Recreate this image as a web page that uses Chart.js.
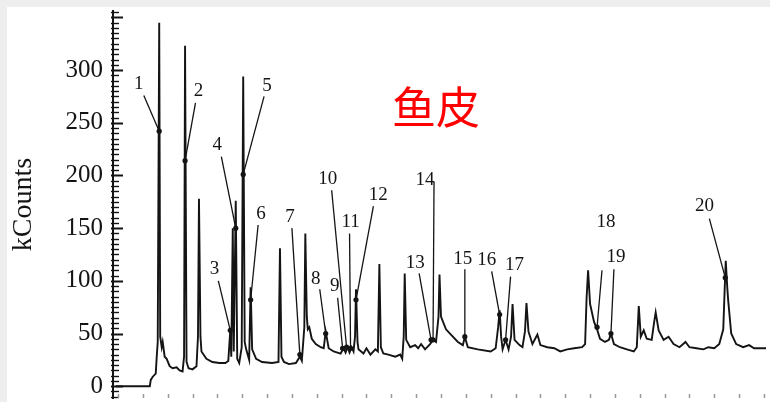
<!DOCTYPE html>
<html>
<head>
<meta charset="utf-8">
<script src="https://cdn.jsdelivr.net/npm/chart.js@4.4.1/dist/chart.umd.min.js"></script>
<style>
  html, body { margin: 0; padding: 0; background: #eeeeee; width: 770px; height: 402px; overflow: hidden; }
  #frame { position: absolute; left: 7px; top: 7px; width: 763px; height: 395px; background: #ffffff; }
  canvas { display: block; }
</style>
</head>
<body>
<div id="frame"><canvas id="chrom" width="763" height="395"></canvas></div>
<script>
// Total ion chromatogram: retention time (min) vs detector response (kCounts)
const traceTime = [
  -1.16, 1.56, 1.64, 1.80, 2.04, 2.12, 2.20, 2.32, 2.40, 2.52,
  2.60, 2.76, 2.92, 3.16, 3.40, 3.72, 3.96, 4.20, 4.32, 4.40,
  4.52, 4.68, 5.00, 5.32, 5.44, 5.52, 5.64, 5.72, 6.12, 6.60,
  7.16, 7.64, 7.88, 8.04, 8.12, 8.24, 8.32, 8.48, 8.60, 8.76,
  8.96, 9.08, 9.20, 9.32, 9.56, 9.68, 9.80, 10.12, 10.60, 11.40,
  11.92, 12.04, 12.16, 12.36, 12.76, 13.32, 13.64, 13.80, 14.00, 14.08,
  14.20, 14.28, 14.40, 14.60, 14.92, 15.32, 15.56, 15.72, 15.96, 16.36,
  16.92, 17.16, 17.32, 17.48, 17.64, 17.80, 17.96, 18.08, 18.16, 18.28,
  18.36, 18.76, 19.00, 19.32, 19.72, 19.92, 20.04, 20.16, 20.36, 20.76,
  21.32, 21.72, 21.88, 22.00, 22.08, 22.20, 22.52, 22.92, 23.16, 23.40,
  23.72, 24.12, 24.36, 24.60, 24.80, 24.88, 25.00, 25.40, 25.80, 26.36,
  26.76, 26.92, 27.16, 27.96, 29.00, 29.40, 29.60, 29.72, 29.84, 29.96,
  30.20, 30.44, 30.64, 30.76, 30.92, 31.32, 31.56, 31.76, 31.88, 32.04,
  32.36, 32.76, 33.00, 33.56, 34.12, 34.60, 35.16, 35.72, 36.36, 36.60,
  36.72, 36.84, 37.00, 37.32, 37.56, 37.80, 38.20, 38.52, 38.68, 38.92,
  39.40, 39.96, 40.52, 40.76, 40.92, 41.08, 41.32, 41.56, 41.96, 42.16,
  42.28, 42.52, 42.92, 43.32, 43.72, 44.20, 44.68, 45.00, 45.56, 46.12,
  46.52, 47.00, 47.40, 47.72, 47.84, 47.92, 48.04, 48.12, 48.36, 48.76,
  49.32, 49.80, 50.20, 51.16
];
const traceCounts = [
  0, 0, 6, 9, 12, 28, 42, 345, 47, 37,
  42, 28, 26, 19, 17, 18, 15, 14, 28, 323,
  23, 17, 16, 19, 47, 178, 47, 33, 26, 23,
  22, 22, 24, 53, 28, 150, 33, 176, 26, 22,
  37, 294, 42, 35, 25, 94, 35, 26, 23, 22,
  23, 131, 28, 23, 21, 22, 28, 24, 56, 145,
  66, 54, 56, 45, 40, 37, 36, 52, 36, 33,
  31, 36, 32, 37, 32, 37, 33, 47, 92, 42,
  35, 31, 36, 30, 35, 33, 116, 37, 31, 30,
  28, 30, 26, 47, 107, 44, 37, 39, 36, 40,
  35, 40, 44, 42, 66, 106, 66, 54, 49, 42,
  39, 47, 37, 35, 33, 36, 56, 72, 47, 35,
  44, 35, 47, 78, 44, 39, 37, 52, 79, 52,
  40, 49, 39, 37, 36, 33, 35, 36, 37, 40,
  84, 110, 78, 61, 54, 45, 42, 44, 50, 40,
  37, 35, 33, 37, 76, 47, 53, 45, 44, 61,
  70, 53, 44, 47, 40, 37, 42, 37, 36, 35,
  37, 36, 40, 54, 94, 119, 94, 81, 50, 40,
  37, 39, 36, 36
];

// Numbered compounds: label text position, leader start, marked point on the trace
const peakNames   = ['1','2','3','4','5','6','7','8','9','10','11','12','13','14','15','16','17','18','19','20'];
const nameTime    = [0.68, 5.48, 6.76, 7.00, 11.00, 10.52, 12.84, 14.92, 16.44, 15.88, 17.72, 19.96, 22.92, 23.72, 26.76, 28.68, 30.92, 38.28, 39.08, 46.20];
const nameCounts  = [287, 280, 111, 229, 285, 163, 161, 102, 95, 197, 156, 181, 117, 196, 121, 120, 115, 156, 123, 171];
const leadTime    = [1.08, 5.24, 7.08, 7.32, 10.76, 10.28, 13.00, 15.24, 16.68, 16.20, 17.64, 19.56, 23.24, 24.44, 26.92, 29.08, 30.60, 37.96, 38.92, 46.60];
const leadCounts  = [276, 269, 100, 218, 275, 153, 150, 92, 84, 186, 145, 171, 107, 194, 111, 109, 104, 110, 111, 159];
const markTime    = [2.32, 4.40, 8.04, 8.48, 9.08, 9.68, 13.64, 15.72, 17.08, 17.40, 17.72, 18.16, 24.20, 24.36, 26.92, 29.72, 30.20, 37.56, 38.68, 47.88];
const markCounts  = [242, 214, 53, 150, 201, 82, 30, 50, 36, 37, 36, 82, 44, 44, 47, 68, 44, 56, 50, 103];

const countTickLabels = [0, 50, 100, 150, 200, 250, 300];
const sampleTitle = '鱼皮';
const countAxisTitle = 'kCounts';

const ink = '#141414';
const serif = '"Liberation Serif", "DejaVu Serif", serif';

const decorations = {
  id: 'decorations',
  afterDatasetsDraw(chart) {
    const { ctx, chartArea } = chart;
    const xs = chart.scales.x, ys = chart.scales.y;
    ctx.save();

    // minor/major ticks on the inner side of the count axis
    const axisX = chartArea.left;
    ctx.strokeStyle = ink;
    ys.ticks.forEach(t => {
      const y = Math.round(ys.getPixelForValue(t.value)) + 0.5;
      const major = t.value % 50 === 0;
      ctx.lineWidth = major ? 2 : 1.4;
      ctx.beginPath();
      ctx.moveTo(axisX - 2, y);
      ctx.lineTo(axisX + (major ? 10 : 6), y);
      ctx.stroke();
    });

    // time-axis tick marks along the lower edge
    const bottom = chartArea.bottom;
    xs.ticks.forEach(t => {
      const x = Math.round(xs.getPixelForValue(t.value)) + 0.5;
      const major = t.value % 10 === 0;
      ctx.strokeStyle = major ? '#222' : '#9a9a9a';
      ctx.lineWidth = major ? 2 : 1.5;
      ctx.beginPath();
      ctx.moveTo(x, bottom - (major ? 10 : 4));
      ctx.lineTo(x, bottom);
      ctx.stroke();
    });

    // leader lines and compound numbers
    ctx.strokeStyle = ink;
    ctx.lineWidth = 1.3;
    ctx.fillStyle = ink;
    ctx.font = '19px ' + serif;
    ctx.textAlign = 'center';
    ctx.textBaseline = 'middle';
    peakNames.forEach((name, i) => {
      ctx.beginPath();
      ctx.moveTo(xs.getPixelForValue(leadTime[i]), ys.getPixelForValue(leadCounts[i]));
      ctx.lineTo(xs.getPixelForValue(markTime[i]), ys.getPixelForValue(markCounts[i]));
      ctx.stroke();
      ctx.fillText(name, xs.getPixelForValue(nameTime[i]), ys.getPixelForValue(nameCounts[i]));
    });

    // sample name
    ctx.fillStyle = '#ff0000';
    ctx.font = '44px "Noto Sans CJK SC", sans-serif';
    ctx.fillText(sampleTitle, chartArea.left + 323, chartArea.top + 96);
    ctx.restore();
  }
};

new Chart(document.getElementById('chrom'), {
  type: 'line',
  data: {
    datasets: [
      {
        data: traceTime.map((t, i) => ({ x: t, y: traceCounts[i] })),
        borderColor: ink,
        borderWidth: 1.9,
        pointRadius: 0,
        tension: 0,
        fill: false,
        order: 2
      },
      {
        type: 'scatter',
        data: markTime.map((t, i) => ({ x: t, y: markCounts[i] })),
        backgroundColor: ink,
        borderColor: ink,
        pointRadius: 2.6,
        borderWidth: 0,
        order: 1
      }
    ]
  },
  options: {
    responsive: false,
    animation: false,
    devicePixelRatio: 1,
    layout: { padding: { top: 3, left: 0, right: 0, bottom: 0 } },
    plugins: { legend: { display: false }, tooltip: { enabled: false }, title: { display: false } },
    scales: {
      x: {
        type: 'linear',
        display: false,
        min: -1.4,
        max: 51.16,
        afterBuildTicks(scale) {
          const out = [];
          for (let v = -1; v <= 51; v++) out.push({ value: v });
          scale.ticks = out;
        }
      },
      y: {
        type: 'linear',
        min: -11.2,
        max: 356.1,
        afterFit(scale) {
          scale.width = 106;
          scale.paddingTop = 0;
          scale.paddingBottom = 0;
        },
        afterBuildTicks(scale) {
          const out = [];
          for (let v = -10; v <= 355; v += 5) out.push({ value: v });
          scale.ticks = out;
        },
        grid: { display: false, drawTicks: false },
        border: { display: true, color: ink, width: 2 },
        ticks: {
          autoSkip: false,
          padding: 10,
          color: ink,
          font: { family: serif, size: 25 },
          callback: v => countTickLabels.includes(v) ? String(v) : ''
        },
        title: {
          display: true,
          text: countAxisTitle,
          color: ink,
          padding: 0,
          font: { family: serif, size: 28 }
        }
      }
    }
  },
  plugins: [decorations]
});
</script>
</body>
</html>
